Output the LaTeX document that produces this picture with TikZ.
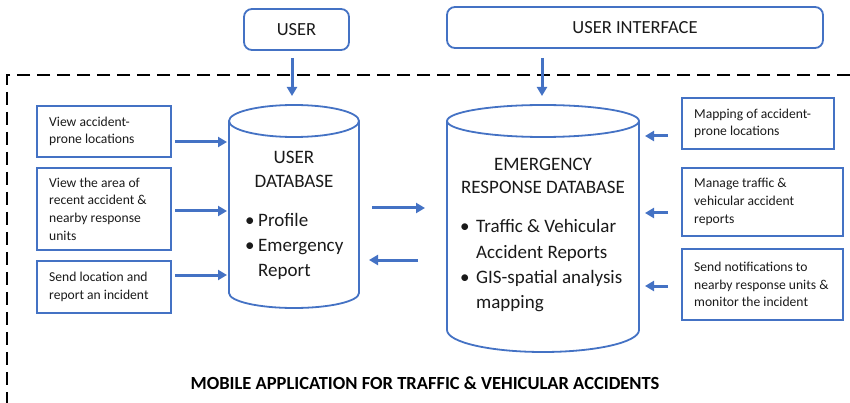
\documentclass[tikz,border=0pt]{standalone}
\usepackage{fontspec}
\setmainfont{Carlito}
\usetikzlibrary{arrows.meta}
\definecolor{cblue}{HTML}{4472C4}
\definecolor{ctext}{HTML}{1A1A1A}
\begin{document}
\begin{tikzpicture}[x=1pt,y=-1pt,
  frame/.style={draw=cblue, line width=1.8pt},
  topbox/.style={frame, rounded corners=8pt, text=ctext, font=\fontsize{18.5}{22}\selectfont},
  sbox/.style={frame, anchor=north west, inner sep=0pt},
  stext/.style={anchor=west, align=left, text=ctext, inner sep=0pt, font=\fontsize{13.6}{17.7}\selectfont},
  big/.style={anchor=base west, text=ctext, inner sep=0pt, font=\fontsize{19}{23}\selectfont},
  bigc/.style={anchor=base, text=ctext, inner sep=0pt, font=\fontsize{19}{23}\selectfont},
  arr/.style={draw=cblue, line width=3pt, -{Triangle[length=9pt,width=10pt]}},
  border/.style={draw=black, line width=2pt, dash pattern=on 13pt off 7pt}]
\useasboundingbox (0,0) rectangle (850,403);
% dashed frame of the application
\draw[border] (870,75) -- (7,75) -- (7,420);
% top boxes
\node[topbox, minimum width=105pt, minimum height=41pt] (user) at (296.5,29.5) {USER};
\node[topbox, minimum width=376pt, minimum height=41pt] (ui) at (635,27.5) {USER INTERFACE};
% user database cylinder
\draw[frame] (229,121) -- (229,293) arc[start angle=180, end angle=360, x radius=65pt, y radius=15pt] -- (359,121);
\draw[frame] (294,121) ellipse [x radius=65pt, y radius=16pt];
\node[bigc] (udbt1) at (294,164) {USER};
\node[bigc] (udbt2) at (294,188) {DATABASE};
\node[big] (udb1) at (245,226) {\makebox[13pt][l]{•}Profile};
\node[big] (udb2) at (245,251) {\makebox[13pt][l]{•}Emergency};
\node[big] (udb3) at (258,276) {Report};
% emergency response database cylinder
\draw[frame] (447,121) -- (447,330) arc[start angle=180, end angle=360, x radius=96pt, y radius=22pt] -- (639,121);
\draw[frame] (543,121) ellipse [x radius=96pt, y radius=16pt];
\node[bigc] (edbt1) at (543,171) {EMERGENCY};
\node[bigc] (edbt2) at (543,194) {RESPONSE DATABASE};
\node[big] (edb1) at (460,233) {\makebox[16pt][l]{•}Traffic \& Vehicular};
\node[big] (edb2) at (476,258) {Accident Reports};
\node[big] (edb3) at (460,283) {\makebox[16pt][l]{•}GIS-spatial analysis};
\node[big] (edb4) at (476,308) {mapping};
% left boxes
\node[sbox, minimum width=134pt, minimum height=51pt] (l1) at (36,105) {};
\node[stext] (l1t) at ([xshift=13pt]l1.west) {View accident-\\prone locations};
\node[sbox, minimum width=134pt, minimum height=82pt] (l2) at (36,167) {};
\node[stext] (l2t) at ([xshift=13pt]l2.west) {View the area of\\recent accident \&\\nearby response\\units};
\node[sbox, minimum width=134pt, minimum height=52pt] (l3) at (36,260) {};
\node[stext] (l3t) at ([xshift=13pt]l3.west) {Send location and\\report an incident};
% right boxes
\node[sbox, minimum width=152pt, minimum height=51pt] (r1) at (681,97) {};
\node[stext] (r1t) at ([xshift=13pt]r1.west) {Mapping of accident-\\prone locations};
\node[sbox, minimum width=161pt, minimum height=68pt] (r2) at (681,167) {};
\node[stext] (r2t) at ([xshift=13pt]r2.west) {Manage traffic \&\\vehicular accident\\reports};
\node[sbox, minimum width=161pt, minimum height=71pt] (r3) at (681,248) {};
\node[stext] (r3t) at ([xshift=13pt]r3.west) {Send notifications to\\nearby response units \&\\monitor the incident};
% arrow end points
\coordinate (au1) at (292,58);  \coordinate (au2) at (292,96);
\coordinate (ai1) at (542,58);  \coordinate (ai2) at (542,96);
\coordinate (al1a) at (175,142); \coordinate (al1b) at (227,142);
\coordinate (al2a) at (175,211); \coordinate (al2b) at (227,211);
\coordinate (al3a) at (175,275); \coordinate (al3b) at (227,275);
\coordinate (ama) at (372,208); \coordinate (amb) at (425,208);
\coordinate (amc) at (418,260); \coordinate (amd) at (369,260);
\coordinate (ar1a) at (668,136); \coordinate (ar1b) at (645,136);
\coordinate (ar2a) at (668,213); \coordinate (ar2b) at (645,213);
\coordinate (ar3a) at (668,286); \coordinate (ar3b) at (645,286);
\draw[arr] (au1) -- (au2);
\draw[arr] (ai1) -- (ai2);
\draw[arr] (al1a) -- (al1b);
\draw[arr] (al2a) -- (al2b);
\draw[arr] (al3a) -- (al3b);
\draw[arr] (ama) -- (amb);
\draw[arr] (amc) -- (amd);
\draw[arr] (ar1a) -- (ar1b);
\draw[arr] (ar2a) -- (ar2b);
\draw[arr] (ar3a) -- (ar3b);
% title
\node[anchor=base, inner sep=0pt, font=\bfseries\fontsize{18.5}{22}\selectfont] (title) at (425,389) {MOBILE APPLICATION FOR TRAFFIC \& VEHICULAR ACCIDENTS};
\end{tikzpicture}
\end{document}
